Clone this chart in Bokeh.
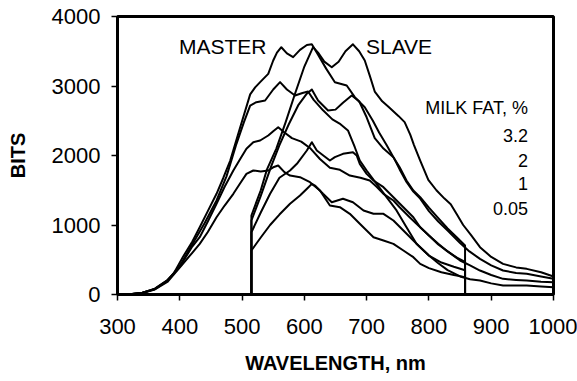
from bokeh.plotting import figure
from bokeh.models import Range1d, FixedTicker
from bokeh.core.properties import value
from bokeh.embed import file_html
from bokeh.resources import INLINE

# ---- data (wavelength nm, BITS) ----
master_32_wl = [300, 320, 340, 352, 360, 379, 390, 405, 420, 432, 445, 459, 470, 481, 497, 513, 521, 529, 542, 550, 556, 563, 572, 582, 593, 604, 612, 622, 635, 649, 668, 681, 697, 710, 720, 732, 743, 753, 764, 775, 786, 800, 815, 830, 845, 858, 858]
master_32_bits = [0, 5, 25, 58, 85, 200, 300, 540, 760, 968, 1200, 1449, 1680, 1928, 2407, 2880, 2980, 3055, 3175, 3367, 3480, 3558, 3470, 3415, 3520, 3590, 3600, 3450, 3250, 3055, 3007, 2839, 2695, 2500, 2330, 2150, 1976, 1832, 1640, 1496, 1400, 1250, 1100, 950, 820, 705, 0]

master_2_wl = [300, 320, 340, 360, 380, 400, 420, 440, 459, 475, 491, 503, 513, 523, 537, 550, 561, 572, 585, 597, 606, 615, 630, 645, 658, 670, 681, 689, 700, 716, 732, 748, 764, 780, 800, 820, 840, 858, 858]
master_2_bits = [0, 5, 25, 80, 200, 410, 720, 1030, 1353, 1700, 2168, 2480, 2719, 2767, 2791, 2950, 3055, 2950, 2863, 2900, 2920, 2800, 2650, 2520, 2450, 2360, 2119, 1928, 1784, 1593, 1400, 1209, 968, 729, 560, 460, 400, 350, 0]

master_1_wl = [300, 320, 340, 360, 380, 400, 420, 432, 445, 459, 472, 486, 497, 507, 518, 529, 542, 550, 558, 568, 580, 595, 610, 625, 641, 657, 673, 690, 705, 716, 727, 743, 753, 769, 786, 800, 815, 830, 845, 858, 858]
master_1_bits = [0, 5, 25, 78, 195, 400, 690, 824, 1050, 1305, 1550, 1784, 1950, 2096, 2191, 2216, 2288, 2350, 2407, 2330, 2250, 2200, 2100, 1950, 1823, 1794, 1712, 1680, 1640, 1550, 1449, 1353, 1256, 1112, 968, 850, 720, 620, 530, 470, 0]

master_005_wl = [300, 320, 340, 360, 380, 405, 420, 432, 445, 459, 472, 486, 497, 507, 518, 530, 542, 550, 558, 568, 577, 593, 609, 625, 641, 657, 673, 689, 700, 711, 727, 743, 759, 775, 786, 800, 820, 840, 858, 858]
master_005_bits = [0, 4, 22, 72, 180, 441, 600, 729, 900, 1112, 1280, 1449, 1600, 1736, 1784, 1770, 1784, 1830, 1856, 1760, 1712, 1688, 1616, 1496, 1281, 1256, 1161, 1017, 921, 824, 777, 729, 633, 537, 441, 380, 320, 280, 250, 0]

slave_32_wl = [515, 515, 530, 540, 555, 570, 585, 600, 614, 622, 632, 644, 655, 666, 678, 688, 697, 705, 713, 725, 735, 751, 761, 770, 776, 786, 799, 812, 825, 835, 845, 855, 868, 882, 900, 919, 940, 957, 980, 1000]
slave_32_bits = [0, 1137, 1500, 1800, 2100, 2480, 2888, 3280, 3560, 3480, 3350, 3270, 3350, 3500, 3600, 3500, 3367, 3150, 2920, 2780, 2700, 2570, 2480, 2300, 2150, 1928, 1650, 1500, 1380, 1300, 1150, 1000, 850, 681, 540, 441, 390, 369, 320, 260]

slave_2_wl = [515, 515, 530, 547, 560, 575, 590, 603, 612, 622, 638, 650, 662, 676, 688, 700, 713, 727, 743, 753, 764, 775, 786, 800, 815, 830, 850, 865, 882, 900, 919, 940, 957, 980, 1000]
slave_2_bits = [0, 1065, 1420, 1850, 2150, 2450, 2720, 2880, 2950, 2791, 2647, 2660, 2760, 2863, 2780, 2550, 2250, 2100, 1976, 1800, 1620, 1480, 1380, 1200, 1050, 920, 740, 620, 513, 420, 345, 310, 297, 260, 226]

slave_1_wl = [515, 515, 530, 545, 560, 577, 588, 604, 612, 620, 632, 641, 649, 662, 678, 684, 689, 700, 711, 727, 743, 759, 775, 786, 800, 815, 830, 850, 866, 882, 900, 919, 940, 957, 980, 1000]
slave_1_bits = [0, 896, 1180, 1450, 1680, 1784, 1880, 2072, 2191, 2072, 1990, 1928, 1976, 2024, 2047, 2000, 1880, 1736, 1640, 1544, 1400, 1256, 1112, 968, 850, 730, 620, 489, 420, 345, 280, 225, 210, 200, 185, 177]

slave_005_wl = [515, 515, 530, 545, 560, 577, 593, 605, 612, 617, 630, 644, 662, 678, 695, 711, 727, 743, 759, 775, 786, 800, 815, 830, 850, 866, 882, 900, 919, 957, 980, 1000]
slave_005_bits = [0, 633, 820, 1000, 1150, 1305, 1424, 1530, 1592, 1568, 1449, 1328, 1377, 1328, 1209, 1161, 1161, 1065, 921, 777, 681, 560, 450, 350, 260, 220, 201, 160, 130, 130, 115, 105]

x_ticks = [300, 400, 500, 600, 700, 800, 900, 1000]
y_ticks = [0, 1000, 2000, 3000, 4000]
legend_title = "MILK FAT, %"
legend_values = ["3.2", "2", "1", "0.05"]
legend_bits = [2288, 1928, 1594, 1237]
legend_title_bits = 2690

FONT = "Liberation Sans"

p = figure(width=577, height=381, output_backend="svg", toolbar_location=None,
           x_range=Range1d(300, 1000), y_range=Range1d(0, 4000),
           min_border_left=117, min_border_right=24, min_border_top=16, min_border_bottom=87)
p.background_fill_color = "white"
p.border_fill_color = "white"
p.xgrid.visible = False
p.ygrid.visible = False
p.outline_line_color = "black"
p.outline_line_width = 3

for ax in (p.xaxis[0], p.yaxis[0]):
    ax.axis_line_width = 3
    ax.axis_line_color = "black"
    ax.major_tick_out = 6
    ax.major_tick_in = 0
    ax.minor_tick_out = 0
    ax.minor_tick_in = 0
    ax.major_tick_line_color = "black"
    ax.major_tick_line_width = 1.5
    ax.major_label_text_font = FONT
    ax.major_label_text_font_size = "22px"
    ax.major_label_text_color = "black"
    ax.axis_label_text_font = FONT
    ax.axis_label_text_font_size = "20px"
    ax.axis_label_text_font_style = "bold"
    ax.axis_label_text_color = "black"

p.xaxis.ticker = FixedTicker(ticks=x_ticks)
p.yaxis.ticker = FixedTicker(ticks=y_ticks)
p.xaxis.axis_label = "WAVELENGTH, nm"
p.yaxis.axis_label = "BITS"
p.xaxis.major_label_standoff = 18
p.yaxis.major_label_standoff = 11
p.xaxis.axis_label_standoff = 15
p.yaxis.axis_label_standoff = 20

curves = [
    (master_32_wl, master_32_bits), (master_2_wl, master_2_bits),
    (master_1_wl, master_1_bits), (master_005_wl, master_005_bits),
    (slave_32_wl, slave_32_bits), (slave_2_wl, slave_2_bits),
    (slave_1_wl, slave_1_bits), (slave_005_wl, slave_005_bits),
]
for xs, ys in curves:
    p.line(xs, ys, line_color="black", line_width=2, line_join="round")

p.text(x=[469], y=[3568], text=["MASTER"], text_font=value(FONT), text_font_size="21px",
       text_align="center", text_baseline="middle", text_color="black")
p.text(x=[752], y=[3568], text=["SLAVE"], text_font=value(FONT), text_font_size="21px",
       text_align="center", text_baseline="middle", text_color="black")
p.text(x=[959], y=[legend_title_bits], text=[legend_title], text_font=value(FONT), text_font_size="18px",
       text_align="right", text_baseline="middle", text_color="black")
p.text(x=[959] * len(legend_values), y=legend_bits, text=legend_values, text_font=value(FONT),
       text_font_size="18px", text_align="right", text_baseline="middle", text_color="black")

open("out.html", "w").write(file_html(p, INLINE))
